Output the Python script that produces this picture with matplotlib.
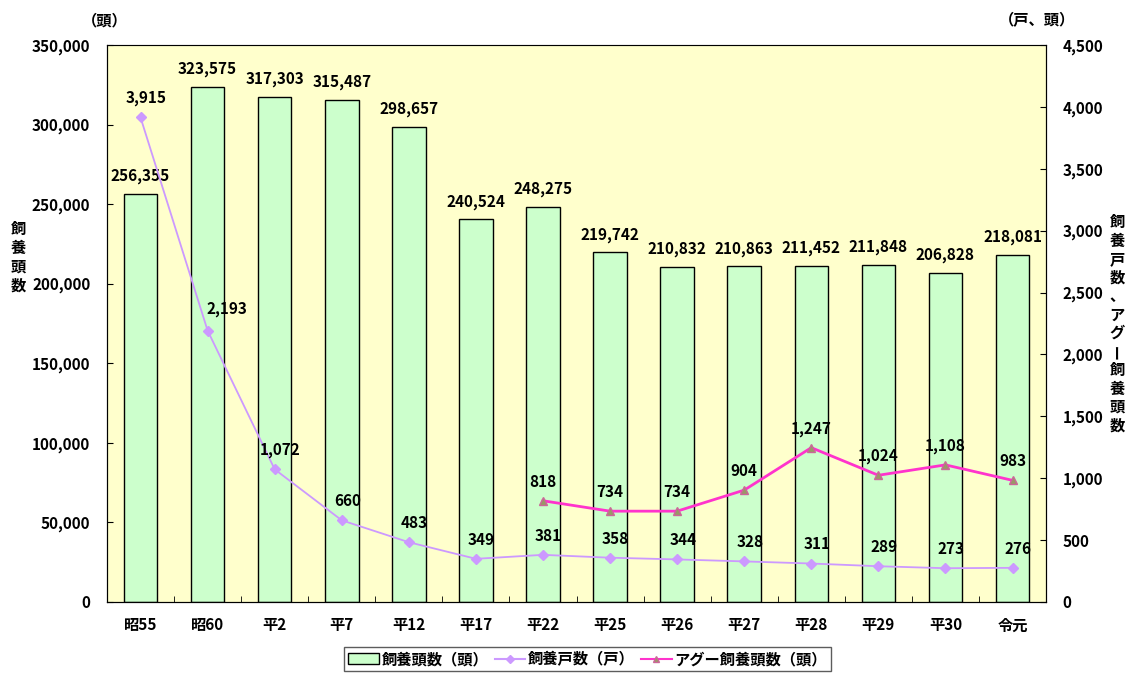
import matplotlib
matplotlib.use("Agg")
import matplotlib.pyplot as plt
import numpy as np
from matplotlib.lines import Line2D
from matplotlib.patches import Patch

plt.rcParams['font.family'] = ['Noto Sans CJK JP', 'DejaVu Sans']
plt.rcParams['font.weight'] = 'bold'

categories = ["昭55", "昭60", "平2", "平7", "平12", "平17", "平22", "平25",
              "平26", "平27", "平28", "平29", "平30", "令元"]
heads = [256355, 323575, 317303, 315487, 298657, 240524, 248275, 219742,
         210832, 210863, 211452, 211848, 206828, 218081]
farms = [3915, 2193, 1072, 660, 483, 349, 381, 358, 344, 328, 311, 289, 273, 276]
agu = [None, None, None, None, None, None, 818, 734, 734, 904, 1247, 1024, 1108, 983]

x = np.arange(len(categories))
fs = 11

fig = plt.figure(figsize=(11.3, 6.73), dpi=100)
ax = fig.add_axes([0.0947, 0.1055, 0.831, 0.8275])
ax.set_facecolor("#FFFFCC")

ax.bar(x, heads, width=0.5, color="#CCFFCC", edgecolor="black", linewidth=1.0, zorder=2)
for xi, v in zip(x, heads):
    ax.annotate(f"{v:,}", (xi, v), xytext=(0, 7), textcoords="offset points",
                ha="center", va="bottom", fontsize=fs, fontweight="bold")

ax.set_xlim(-0.5, len(categories) - 0.5)
ax.set_ylim(0, 350000)
ax.set_yticks(np.arange(0, 350001, 50000))
ax.set_yticklabels([f"{v:,}" for v in range(0, 350001, 50000)], fontsize=fs)
ax.set_xticks(x)
ax.set_xticklabels(categories, fontsize=fs)
ax.tick_params(axis="x", length=0, pad=11)
ax.set_xticks(np.arange(0.5, len(categories) - 1, 1), minor=True)
ax.tick_params(axis="x", which="minor", direction="in", length=4)
ax.tick_params(axis="y", direction="in", length=4, pad=12)
for s in ax.spines.values():
    s.set_color("black")
ax.spines["top"].set_color("#999999")

ax2 = ax.twinx()
ax2.set_ylim(0, 4500)
ax2.set_yticks(np.arange(0, 4501, 500))
ax2.set_yticklabels([f"{v:,}" for v in range(0, 4501, 500)], fontsize=fs)
ax2.tick_params(axis="y", direction="in", length=4, pad=12)

ax2.plot(x, farms, color="#CC99FF", linewidth=1.3, marker="D", markersize=5,
         markerfacecolor="#CC99FF", markeredgecolor="#CC99FF", zorder=3)
agu_x = [xi for xi, v in zip(x, agu) if v is not None]
agu_v = [v for v in agu if v is not None]
ax2.plot(agu_x, agu_v, color="#FF33CC", linewidth=2.0, marker="^", markersize=6,
         markerfacecolor="#999966", markeredgecolor="#CC6699", zorder=4)

for xi, v in zip(x, farms):
    off = (14, 10) if v == 2193 else (4, 8)
    ax2.annotate(f"{v:,}", (xi, v), xytext=off, textcoords="offset points",
                 ha="center", va="bottom", fontsize=fs, fontweight="bold")
for xi, v in zip(agu_x, agu_v):
    ax2.annotate(f"{v:,}", (xi, v), xytext=(0, 8), textcoords="offset points",
                 ha="center", va="bottom", fontsize=fs, fontweight="bold")

fig.text(105 / 1130, 1 - 20 / 673, "（頭）", ha="center", va="center", fontsize=fs)
fig.text(1037 / 1130, 1 - 20 / 673, "（戸、頭）", ha="center", va="center", fontsize=fs)

left_label = "飼養頭数"
for i, ch in enumerate(left_label):
    fig.text(18 / 1130, 1 - (229 + i * 19) / 673, ch, ha="center", va="center", fontsize=fs)
right_label = "飼養戸数、アグー飼養頭数"
for i, ch in enumerate(right_label):
    rot = 90 if ch == "ー" else 0
    fig.text(1117 / 1130, 1 - (222 + i * 18.5) / 673, ch, ha="center", va="center",
             fontsize=fs, rotation=rot)

handles = [Patch(facecolor="#CCFFCC", edgecolor="black", label="飼養頭数（頭）"),
           Line2D([], [], color="#CC99FF", marker="D", markersize=4, label="飼養戸数（戸）"),
           Line2D([], [], color="#FF33CC", marker="^", markersize=5, markerfacecolor="#999966",
                  markeredgecolor="#CC6699", label="アグー飼養頭数（頭）")]
leg = fig.legend(handles=handles, loc="center", bbox_to_anchor=(0.52, 1 - 659 / 673),
                 ncol=3, fontsize=fs, frameon=True, fancybox=False, edgecolor="#333333",
                 handlelength=2.0, handletextpad=0.2, columnspacing=0.4, borderpad=0.25)
leg.get_frame().set_linewidth(1.0)

fig.savefig("out.png", dpi=100)
